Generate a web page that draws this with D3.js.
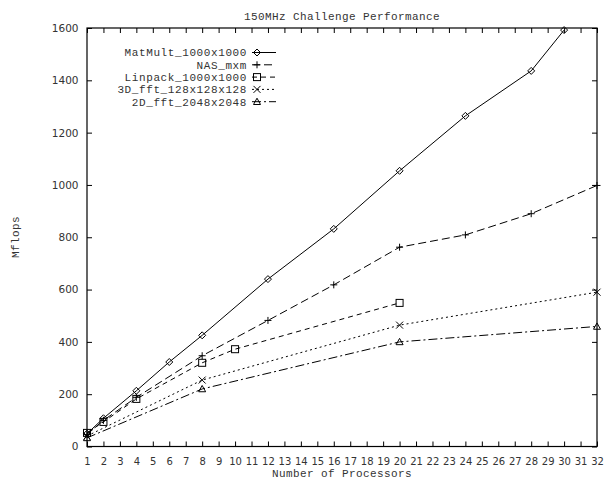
<!DOCTYPE html>
<html>
<head>
<meta charset="utf-8">
<script src="https://cdn.jsdelivr.net/npm/d3@7"></script>
<style>
  html, body { margin: 0; padding: 0; background: #fff; }
  svg { display: block; }
</style>
</head>
<body>
<svg id="chart" width="610" height="481"></svg>
<script>
// ---- Data ----
const title = "150MHz Challenge Performance";
const xLabel = "Number of Processors";
const yLabel = "Mflops";
const seriesNames = ["MatMult_1000x1000", "NAS_mxm", "Linpack_1000x1000", "3D_fft_128x128x128", "2D_fft_2048x2048"];
const matmultX = [1, 2, 4, 6, 8, 12, 16, 20, 24, 28, 30];
const matmultY = [49, 108, 213, 323, 425, 640, 832, 1054, 1264, 1436, 1592];
const nasX = [1, 2, 4, 8, 12, 16, 20, 24, 28, 32];
const nasY = [46, 100, 188, 347, 482, 618, 762, 809, 890, 998];
const linpackX = [1, 2, 4, 8, 10, 20];
const linpackY = [52, 94, 182, 320, 372, 549];
const fft3dX = [1, 8, 20, 32];
const fft3dY = [40, 254, 464, 590];
const fft2dX = [1, 8, 20, 32];
const fft2dY = [33, 220, 400, 459];
const xTicks = d3.range(1, 33);
const yTicks = [0, 200, 400, 600, 800, 1000, 1200, 1400, 1600];

// ---- Layout ----
const L = 87, R = 597, T = 28, B = 446.5;
const svg = d3.select("#chart");
const x = d3.scaleLinear().domain([1, 32]).range([L, R]);
const y = d3.scaleLinear().domain([0, 1600]).range([B, T]);
const mono = "'Liberation Mono', 'DejaVu Sans Mono', monospace";
const sans = "'DejaVu Sans', sans-serif";

const series = [
  { name: seriesNames[0], xs: matmultX, ys: matmultY, dash: null, marker: "diamond" },
  { name: seriesNames[1], xs: nasX, ys: nasY, dash: "8,4", marker: "plus" },
  { name: seriesNames[2], xs: linpackX, ys: linpackY, dash: "5,4", marker: "square" },
  { name: seriesNames[3], xs: fft3dX, ys: fft3dY, dash: "2,3", marker: "cross" },
  { name: seriesNames[4], xs: fft2dX, ys: fft2dY, dash: "9,3,2,3", marker: "triangle" }
];

// ---- Axes (gnuplot style, inward ticks, mirrored) ----
const tickLen = 5;
const axB = svg.append("g").attr("transform", `translate(0,${B})`)
  .call(d3.axisBottom(x).tickValues(xTicks).tickFormat(d3.format("d")).tickSizeInner(-tickLen).tickSizeOuter(0).tickPadding(9));
const axT = svg.append("g").attr("transform", `translate(0,${T})`)
  .call(d3.axisTop(x).tickValues(xTicks).tickFormat("").tickSizeInner(-tickLen).tickSizeOuter(0));
const axL = svg.append("g").attr("transform", `translate(${L},0)`)
  .call(d3.axisLeft(y).tickValues(yTicks).tickFormat(d3.format("d")).tickSizeInner(-tickLen).tickSizeOuter(0).tickPadding(9));
const axR = svg.append("g").attr("transform", `translate(${R},0)`)
  .call(d3.axisRight(y).tickValues(yTicks).tickFormat("").tickSizeInner(-tickLen).tickSizeOuter(0));
[axB, axT, axL, axR].forEach(g => {
  g.select(".domain").remove();
  g.selectAll(".tick line").attr("stroke", "#000").attr("stroke-width", 1);
  g.selectAll("text").attr("font-family", sans).attr("font-size", "10.5px").attr("fill", "#333");
});
axB.selectAll(".tick text").attr("dy", "0.95em").attr("font-size", "10px");
axL.selectAll(".tick text").attr("dx", "0.5px");
svg.append("rect").attr("x", L).attr("y", T).attr("width", R - L).attr("height", B - T)
  .attr("fill", "none").attr("stroke", "#000").attr("stroke-width", 1.2);

// ---- Titles ----
svg.append("text").attr("x", (L + R) / 2).attr("y", 20).attr("text-anchor", "middle")
  .attr("font-family", mono).attr("font-size", "11px").attr("letter-spacing", "0.4px")
  .attr("fill", "#333").text(title);
svg.append("text").attr("x", (L + R) / 2).attr("y", 477).attr("text-anchor", "middle")
  .attr("font-family", mono).attr("font-size", "11px").attr("letter-spacing", "0.4px")
  .attr("fill", "#333").text(xLabel);
svg.append("text").attr("transform", "translate(19,237) rotate(-90)").attr("text-anchor", "middle")
  .attr("font-family", mono).attr("font-size", "11px").attr("letter-spacing", "0.4px")
  .attr("fill", "#333").text(yLabel);

// ---- Markers ----
function drawMarker(g, type, cx, cy) {
  const s = 3.5;
  if (type === "diamond") {
    g.append("path").attr("d", `M${cx},${cy - s}L${cx + s},${cy}L${cx},${cy + s}L${cx - s},${cy}Z`)
      .attr("fill", "none").attr("stroke", "#000");
  } else if (type === "plus") {
    g.append("path").attr("d", `M${cx - s},${cy}H${cx + s}M${cx},${cy - s}V${cy + s}`).attr("stroke", "#000");
  } else if (type === "square") {
    g.append("rect").attr("x", cx - s).attr("y", cy - s).attr("width", 2 * s).attr("height", 2 * s)
      .attr("fill", "none").attr("stroke", "#000");
  } else if (type === "cross") {
    g.append("path").attr("d", `M${cx - s},${cy - s}L${cx + s},${cy + s}M${cx - s},${cy + s}L${cx + s},${cy - s}`).attr("stroke", "#000");
  } else if (type === "triangle") {
    g.append("path").attr("d", `M${cx},${cy - s}L${cx + s},${cy + s * 0.8}L${cx - s},${cy + s * 0.8}Z`)
      .attr("fill", "none").attr("stroke", "#000");
  }
}

// ---- Lines ----
const line = d3.line().x(d => x(d[0])).y(d => y(d[1]));
const plot = svg.append("g");
series.forEach(s => {
  const pts = s.xs.map((v, i) => [v, s.ys[i]]);
  plot.append("path").attr("d", line(pts)).attr("fill", "none").attr("stroke", "#000")
    .attr("stroke-width", 1).attr("stroke-dasharray", s.dash);
  const mg = plot.append("g").attr("stroke-width", 1);
  pts.forEach(p => drawMarker(mg, s.marker, x(p[0]), y(p[1])));
});

// ---- Legend ----
const legend = svg.append("g");
series.forEach((s, i) => {
  const ly = 52.5 + i * 12.3;
  legend.append("text").attr("x", 247).attr("y", ly).attr("dy", "0.35em").attr("text-anchor", "end")
    .attr("font-family", mono).attr("font-size", "11px").attr("letter-spacing", "0.6px")
    .attr("fill", "#333").text(s.name);
  legend.append("line").attr("x1", 252).attr("x2", 276).attr("y1", ly).attr("y2", ly)
    .attr("stroke", "#000").attr("stroke-dasharray", s.dash);
  const mg = legend.append("g").attr("stroke-width", 1);
  drawMarker(mg, s.marker, 257, ly);
});
</script>
</body>
</html>
